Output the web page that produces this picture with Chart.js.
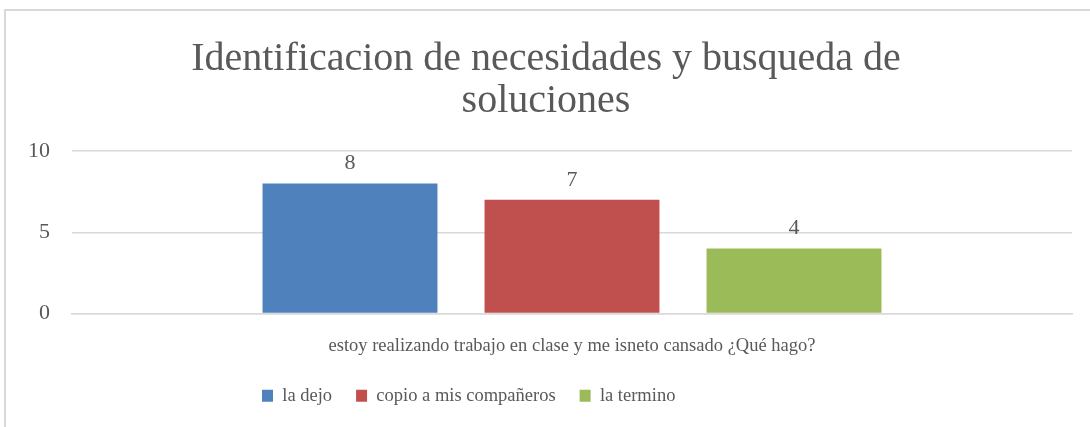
<!DOCTYPE html>
<html>
<head>
<meta charset="utf-8">
<script src="https://cdn.jsdelivr.net/npm/chart.js@4/dist/chart.umd.min.js"></script>
<style>
html,body{margin:0;padding:0;background:#fff;}
#wrap{position:absolute;left:0;top:0;width:1090px;height:427px;}
#frame{position:absolute;left:4px;top:9px;width:1100px;height:430px;border-top:2px solid #d9d9d9;border-left:2px solid #d9d9d9;box-sizing:border-box;}
canvas{position:absolute;left:0;top:0;}
</style>
</head>
<body>
<div id="wrap">
<div id="frame"></div>
<canvas id="c" width="1090" height="427"></canvas>
</div>
<script>
const titleLines = ['Identificacion de necesidades y busqueda de', 'soluciones'];
const categories = ['estoy realizando trabajo en clase y me isneto cansado ¿Qué hago?'];
const seriesNames = ['la dejo', 'copio a mis compañeros', 'la termino'];
const laDejo = [8];
const copio = [7];
const laTermino = [4];
const yTicks = [0, 5, 10];

const FONT = "'Liberation Serif', 'DejaVu Serif', serif";
const GRAY = '#595959';

const valueLabels = {
  id: 'valueLabels',
  afterDatasetsDraw(chart) {
    const ctx = chart.ctx;
    ctx.save();
    ctx.font = '22px ' + FONT;
    ctx.fillStyle = GRAY;
    ctx.textAlign = 'center';
    ctx.textBaseline = 'bottom';
    chart.data.datasets.forEach((ds, i) => {
      const meta = chart.getDatasetMeta(i);
      meta.data.forEach((bar, j) => {
        ctx.fillText(String(ds.data[j]), bar.x, bar.y - 9);
      });
    });
    ctx.restore();
  }
};

// Excel places this legend left of centre; shift the legend box start.
const legendShift = {
  id: 'legendShift',
  afterLayout(chart) {
    if (chart.legend) chart.legend.left = 238;
  }
};

new Chart(document.getElementById('c'), {
  type: 'bar',
  data: {
    labels: categories,
    datasets: [
      { label: seriesNames[0], data: laDejo, backgroundColor: '#4F81BD' },
      { label: seriesNames[1], data: copio, backgroundColor: '#C0504D' },
      { label: seriesNames[2], data: laTermino, backgroundColor: '#9BBB59' }
    ]
  },
  options: {
    responsive: false,
    animation: false,
    devicePixelRatio: 1,
    categoryPercentage: 0.666,
    barPercentage: 0.788,
    layout: { padding: { left: 20, right: 18, top: 30, bottom: 12 } },
    plugins: {
      title: {
        display: true,
        text: titleLines,
        color: GRAY,
        font: { family: FONT, size: 40, weight: 'normal', lineHeight: 1.05 },
        padding: { top: 8, bottom: 29 }
      },
      legend: {
        position: 'bottom',
        align: 'start',
        labels: {
          color: GRAY,
          font: { family: FONT, size: 18.5 },
          boxWidth: 11,
          boxHeight: 12,
          padding: 24
        }
      },
      tooltip: { enabled: false }
    },
    scales: {
      x: {
        afterFit(scale) { scale.height = 49; },
        grid: { display: false, drawTicks: false },
        border: { display: true, color: '#d9d9d9', width: 1.5 },
        ticks: { color: GRAY, font: { family: FONT, size: 18.5 }, padding: 22 }
      },
      y: {
        min: 0,
        max: 10,
        afterBuildTicks(scale) { scale.ticks = yTicks.map(v => ({ value: v })); },
        afterFit(scale) { scale.width = 52; },
        grid: { color: '#d9d9d9', lineWidth: 1.5, drawTicks: false },
        border: { display: false },
        ticks: { color: GRAY, font: { family: FONT, size: 22 }, padding: 22 }
      }
    }
  },
  plugins: [valueLabels, legendShift]
});
</script>
</body>
</html>
